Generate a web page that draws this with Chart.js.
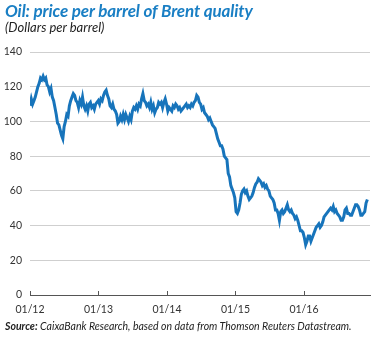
<!DOCTYPE html>
<html>
<head>
<meta charset="utf-8">
<script src="https://cdn.jsdelivr.net/npm/chart.js@4.4.1/dist/chart.umd.min.js"></script>
<style>
  html, body { margin: 0; padding: 0; background: #fff; }
  #wrap { position: relative; width: 381px; height: 338px; overflow: hidden; }
  #chart { position: absolute; left: 0; top: 0; }
  .txt { position: absolute; left: 5px; white-space: nowrap; font-family: Lato, "Open Sans", sans-serif; }
  #title { top: 2px; font-size: 17px; line-height: 18px; font-weight: 700; font-style: italic; color: #1a7fc4; letter-spacing: -0.1px; }
  #subtitle { top: 20px; font-size: 13px; line-height: 14px; font-style: italic; color: #222; }
  #source { top: 320px; font-size: 10.5px; line-height: 12px; font-style: italic; color: #222; }
</style>
</head>
<body>
<div id="wrap">
  <canvas id="chart" width="381" height="338"></canvas>
  <div class="txt" id="title">Oil: price per barrel of Brent quality</div>
  <div class="txt" id="subtitle">(Dollars per barrel)</div>
  <div class="txt" id="source"><b>Source:</b> CaixaBank Research, based on data from Thomson Reuters Datastream.</div>
</div>
<script>
// Brent, dólares por barril, dados semanais (jan 2012 - dez 2016)
const brent2012 = [109, 113, 110, 112, 114, 117, 120, 122, 125, 124, 126, 124, 125, 121, 120, 117, 119, 114, 112, 108, 104, 99, 98, 95, 92, 90,
  97, 100, 104, 103, 109, 112, 114, 116, 115, 112, 111, 108, 112, 110, 114, 109, 107, 109, 106, 110, 111, 108, 109, 107, 110, 111];
const brent2013 = [112, 110, 113, 112, 115, 117, 118, 115, 113, 109, 108, 110, 107, 106, 104, 99, 100, 103, 101, 104, 101,
  104, 102, 100, 103, 101, 106, 108, 107, 109, 107, 110, 109, 113, 116, 112, 111, 109, 110, 108, 111, 107, 109,
  105, 107, 108, 111, 110, 111, 108, 111, 113];
const brent2014 = [110, 106, 108, 107, 106, 109, 108, 110, 109, 107, 108, 106, 107, 108, 109, 110, 108, 109, 108, 110, 109,
  111, 112, 115, 114, 111, 110, 107, 108, 105, 104, 103, 101, 102, 100, 98, 97, 96, 93, 90, 88, 86, 86,
  84, 80, 79, 78, 70, 68, 63, 61, 59];
const brent2015 = [56, 48, 47, 49, 53, 58, 60, 61, 59, 60, 57, 55, 56, 57, 59, 62, 64, 65, 67, 66, 65, 63,
  64, 62, 63, 61, 60, 57, 56, 55, 53, 49, 49, 47, 43, 48, 49, 47, 48, 50, 52, 49, 48, 49,
  47, 46, 44, 45, 43, 40, 37, 37];
const brent2016 = [36, 33, 29, 31, 34, 34, 31, 33, 35, 37, 39, 40, 41, 39, 40, 42, 45, 46, 47, 48, 49, 50,
  49, 51, 48, 49, 47, 46, 45, 43, 43, 45, 49, 50, 47, 47, 46, 46, 48, 50, 52, 52, 51, 49,
  46, 46, 47, 48, 53, 55];
const brentValues = [...brent2012, ...brent2013, ...brent2014, ...brent2015, ...brent2016];

const xTickLabels = ['01/12', '01/13', '01/14', '01/15', '01/16'];
const weeksPerYear = 52.18;
const yTicks = [0, 20, 40, 60, 80, 100, 120, 140];

// ticks pequenos para dentro do eixo x
const innerTicks = {
  id: 'innerTicks',
  afterDraw(chart) {
    const { ctx, chartArea, scales } = chart;
    ctx.save();
    ctx.strokeStyle = '#555';
    ctx.lineWidth = 1;
    scales.x.ticks.forEach((t) => {
      const px = Math.round(scales.x.getPixelForValue(t.value)) + 0.5;
      ctx.beginPath();
      ctx.moveTo(px, chartArea.bottom - 4);
      ctx.lineTo(px, chartArea.bottom);
      ctx.stroke();
    });
    ctx.restore();
  }
};

new Chart(document.getElementById('chart').getContext('2d'), {
  type: 'line',
  data: {
    datasets: [{
      data: brentValues.map((v, i) => ({ x: i, y: v })),
      borderColor: '#1774bb',
      borderWidth: 3,
      pointRadius: 0,
      tension: 0,
      fill: false
    }]
  },
  options: {
    responsive: false,
    animation: false,
    layout: { padding: { top: 52, right: 11, left: 0, bottom: 0 } },
    plugins: { legend: { display: false }, tooltip: { enabled: false } },
    scales: {
      x: {
        type: 'linear',
        min: 0,
        max: 259,
        afterBuildTicks: (scale) => {
          scale.ticks = xTickLabels.map((_, i) => ({ value: i * weeksPerYear }));
        },
        afterFit: (scale) => { scale.height = 43; },
        ticks: {
          callback: (value, index) => xTickLabels[index],
          color: '#333',
          font: { family: 'Lato', size: 10.5 },
          padding: 8,
          maxRotation: 0
        },
        grid: { display: false, drawTicks: false },
        border: { display: true, color: '#555', width: 1 }
      },
      y: {
        min: 0,
        max: 140,
        afterBuildTicks: (scale) => {
          scale.ticks = yTicks.map((v) => ({ value: v }));
        },
        afterFit: (scale) => { scale.width = 30; },
        ticks: {
          color: '#333',
          font: { family: 'Lato', size: 10.5 },
          padding: 8
        },
        grid: { color: '#cfcfcf', lineWidth: 1, drawTicks: false },
        border: { display: false }
      }
    }
  },
  plugins: [innerTicks]
});
</script>
</body>
</html>
